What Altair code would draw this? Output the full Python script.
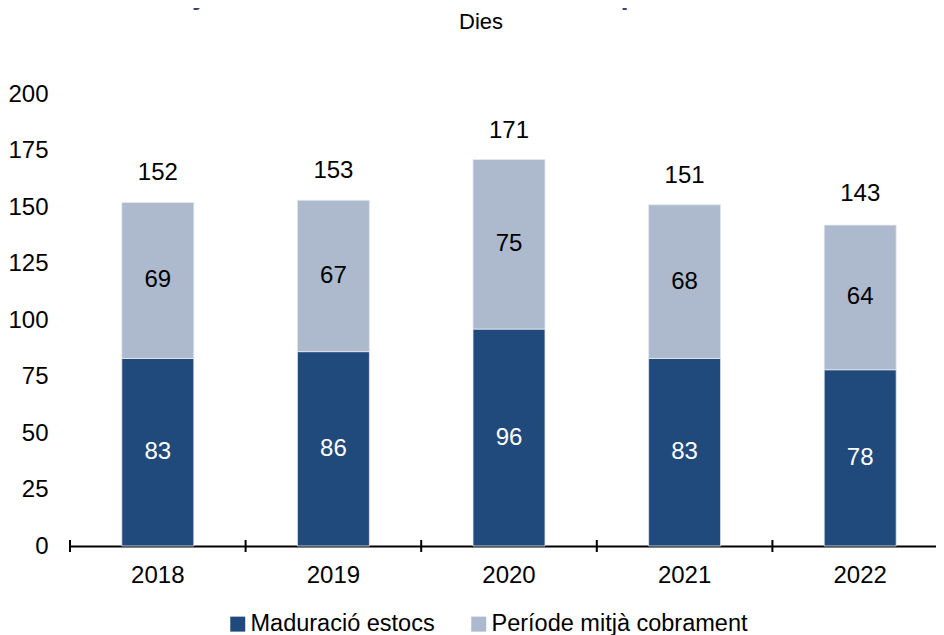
import altair as alt
import pandas as pd

years = ["2018", "2019", "2020", "2021", "2022"]
series = ["Maduració estocs", "Període mitjà cobrament"]
estocs = [83, 86, 96, 83, 78]
cobrament = [69, 67, 75, 68, 64]
totals = [152, 153, 171, 151, 143]
colors = ["#214a7c", "#adb9cc"]

rows = []
for i, y in enumerate(years):
    rows.append({"year": y, "series": series[0], "value": estocs[i], "ord": 0})
    rows.append({"year": y, "series": series[1], "value": cobrament[i], "ord": 1})
df = pd.DataFrame(rows)
tot = pd.DataFrame({"year": years, "total": totals})

FONT = "Liberation Sans"
W, H = 866, 452

xenc = alt.X("year:N", sort=years,
             scale=alt.Scale(range=[0, 878], paddingInner=0, paddingOuter=0),
             axis=alt.Axis(title=None, ticks=False, domain=True, domainColor="black",
                           domainWidth=2, labelPadding=17, labelFontSize=24, labelAngle=0,
                           grid=False, labelColor="black", labelFont=FONT))
yscale = alt.Scale(domain=[0, 200])

bars = alt.Chart(df).mark_bar(width=alt.RelativeBandSize(0.41), stroke="#e6eaf0",
                              strokeWidth=0.8).encode(
    x=xenc,
    y=alt.Y("value:Q", stack="zero", scale=yscale,
            axis=alt.Axis(title=None, values=list(range(0, 201, 25)), domain=False,
                          ticks=False, grid=False, labelPadding=22, labelFontSize=24,
                          labelColor="black", labelFont=FONT)),
    color=alt.Color("series:N", sort=series,
                    scale=alt.Scale(domain=series, range=colors),
                    legend=alt.Legend(title=None, orient="none", legendX=156, legendY=518,
                                      direction="horizontal", symbolType="square",
                                      symbolSize=225, symbolStrokeWidth=0,
                                      labelFontSize=23.5, labelFont=FONT, labelColor="black",
                                      labelLimit=0, columnPadding=32, labelOffset=1,
                                      padding=0)),
    order=alt.Order("ord:Q"),
)

seg = alt.Chart(df).transform_stack(
    stack="value", groupby=["year"], as_=["v0", "v1"], sort=[alt.SortField("ord")]
).transform_calculate(mid="(datum.v0 + datum.v1) / 2").mark_text(
    fontSize=24, font=FONT, baseline="middle"
).encode(
    x=alt.X("year:N", sort=years),
    y=alt.Y("mid:Q", scale=yscale),
    text="value:Q",
    color=alt.condition(alt.datum.ord == 0, alt.value("white"), alt.value("black")),
)

toplab = alt.Chart(tot).mark_text(fontSize=24, font=FONT, baseline="middle", dy=-29,
                                  color="black").encode(
    x=alt.X("year:N", sort=years),
    y=alt.Y("total:Q", scale=yscale),
    text="total:Q",
)

ticks = alt.Chart(tot).mark_rule(color="black", strokeWidth=2).encode(
    x=alt.X("year:N", sort=years, bandPosition=0),
    y=alt.value(H - 6),
    y2=alt.value(H + 6),
)

chart = alt.layer(bars, seg, toplab, ticks).properties(
    width=W, height=H,
    autosize=alt.AutoSizeParams(type="none"),
    padding={"left": 62, "top": 86, "right": 0, "bottom": 95},
    title=alt.TitleParams(
        text="Període mitjà de maduració d'estocs i del període de cobrament",
        subtitle="Dies", anchor="middle", dx=-22, offset=48,
        font=FONT, fontSize=29.5, fontWeight="bold", color="#3d4470",
        subtitleFont=FONT, subtitleFontSize=22, subtitleColor="black",
        subtitlePadding=2),
).configure(font=FONT).configure_view(strokeWidth=0, stroke="transparent").configure_axis(grid=False)

chart.save("out.html", embed_options={"renderer": "svg", "actions": False})
